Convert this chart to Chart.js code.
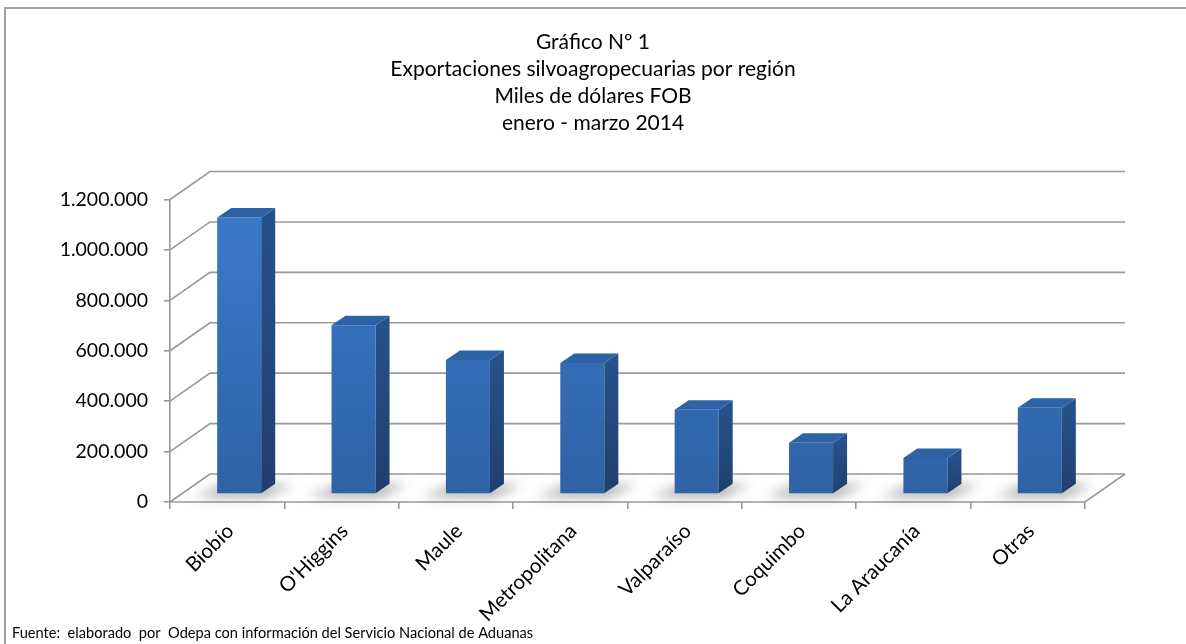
<!DOCTYPE html>
<html>
<head>
<meta charset="utf-8">
<script src="https://cdn.jsdelivr.net/npm/chart.js@4/dist/chart.umd.min.js"></script>
<style>
  html, body { margin: 0; padding: 0; background: #fff; }
  #wrap { width: 1186px; height: 644px; position: relative; }
</style>
</head>
<body>
<div id="wrap"><canvas id="c" width="1186" height="644"></canvas></div>
<script>
// data (miles de dólares FOB)
var regiones = ['Biobío', "O'Higgins", 'Maule', 'Metropolitana', 'Valparaíso', 'Coquimbo', 'La Araucanía', 'Otras'];
var exportaciones = [1097000, 669000, 532000, 520000, 334000, 203000, 143000, 342000];
var yTicks = [0, 200000, 400000, 600000, 800000, 1000000, 1200000];
var tituloLineas = ['Gráfico Nº 1', 'Exportaciones silvoagropecuarias por región', 'Miles de dólares FOB', 'enero - marzo 2014'];
var fuente = 'Fuente:  elaborado  por  Odepa con información del Servicio Nacional de Aduanas';

var FONT = "Lato, 'Open Sans', sans-serif";
var DEPTH_X = 40, DEPTH_Y = 28;      // depth of the walls
var BAR_OFF_X = 12, BAR_OFF_Y = 8;   // bar front face sits a bit behind the front plane
var BAR_DX = 14, BAR_DY = 9.5;       // bar depth
var GRID = '#999999';

function fmt(v) {
    return String(v).replace(/\B(?=(\d{3})+(?!\d))/g, '.');
}

var wallPlugin = {
    id: 'wall3d',
    beforeDraw: function(chart) {
        var ctx = chart.ctx;
        ctx.save();
        ctx.fillStyle = '#fff';
        ctx.fillRect(0, 0, chart.width, chart.height);
        // frame
        ctx.strokeStyle = '#a0a0a0';
        ctx.lineWidth = 2;
        ctx.beginPath();
        ctx.moveTo(5, chart.height);
        ctx.lineTo(5, 8);
        ctx.lineTo(chart.width, 8);
        ctx.stroke();
        // footer
        ctx.fillStyle = '#000';
        ctx.font = '14.6px ' + FONT;
        ctx.textBaseline = 'middle';
        ctx.fillText(fuente, 12, 633);
        ctx.restore();
    },
    beforeDatasetsDraw: function(chart) {
        var ctx = chart.ctx, a = chart.chartArea, y = chart.scales.y;
        ctx.save();
        ctx.strokeStyle = GRID;
        ctx.lineWidth = 1.6;
        // back wall gridlines + side wall diagonals
        yTicks.forEach(function(t) {
            var py = y.getPixelForValue(t);
            ctx.beginPath();
            ctx.moveTo(a.left, py);
            ctx.lineTo(a.left + DEPTH_X, py - DEPTH_Y);
            ctx.lineTo(a.right + DEPTH_X, py - DEPTH_Y);
            ctx.stroke();
        });
        // floor
        var p0 = y.getPixelForValue(0);
        ctx.beginPath();
        ctx.moveTo(a.left, p0);
        ctx.lineTo(a.right, p0);
        ctx.lineTo(a.right + DEPTH_X, p0 - DEPTH_Y);
        ctx.stroke();
        // bar shadows on the floor
        var meta = chart.getDatasetMeta(0);
        ctx.fillStyle = 'rgba(70,70,70,0.45)';
        ctx.filter = 'blur(6px)';
        meta.data.forEach(function(bar) {
            var l = bar.x - bar.width / 2 + BAR_OFF_X, r = bar.x + bar.width / 2 + BAR_OFF_X;
            var b = p0 - BAR_OFF_Y;
            ctx.beginPath();
            ctx.moveTo(l - 24, b + 3);
            ctx.lineTo(r + 4, b + 3);
            ctx.lineTo(r + BAR_DX + 18, b - BAR_DY);
            ctx.lineTo(l + BAR_DX - 6, b - BAR_DY);
            ctx.closePath();
            ctx.fill();
        });
        ctx.filter = 'none';
        ctx.restore();
        // draw the library's bars shifted to their depth
        ctx.save();
        ctx.translate(BAR_OFF_X, -BAR_OFF_Y);
    },
    afterDatasetsDraw: function(chart) {
        var ctx = chart.ctx;
        ctx.restore();
        var meta = chart.getDatasetMeta(0);
        ctx.save();
        meta.data.forEach(function(bar) {
            var l = bar.x - bar.width / 2 + BAR_OFF_X, r = bar.x + bar.width / 2 + BAR_OFF_X;
            var t = bar.y - BAR_OFF_Y, b = bar.base - BAR_OFF_Y;
            // side face
            var sg = ctx.createLinearGradient(0, t, 0, b);
            sg.addColorStop(0, '#26518a');
            sg.addColorStop(1, '#1f406d');
            ctx.fillStyle = sg;
            ctx.beginPath();
            ctx.moveTo(r, t);
            ctx.lineTo(r + BAR_DX, t - BAR_DY);
            ctx.lineTo(r + BAR_DX, b - BAR_DY);
            ctx.lineTo(r, b);
            ctx.closePath();
            ctx.fill();
            // top face
            ctx.fillStyle = '#2d62a6';
            ctx.beginPath();
            ctx.moveTo(l, t);
            ctx.lineTo(l + BAR_DX, t - BAR_DY);
            ctx.lineTo(r + BAR_DX, t - BAR_DY);
            ctx.lineTo(r, t);
            ctx.closePath();
            ctx.fill();
        });
        ctx.restore();
    }
};

var ctx = document.getElementById('c').getContext('2d');
new Chart(ctx, {
    type: 'bar',
    data: {
        labels: regiones,
        datasets: [{
            label: 'Exportaciones',
            data: exportaciones,
            borderWidth: 0,
            categoryPercentage: 1,
            barPercentage: 0.385,
            backgroundColor: function(c) {
                var a = c.chart.chartArea;
                if (!a) return '#3470bd';
                var g = c.chart.ctx.createLinearGradient(0, a.top, 0, a.bottom);
                g.addColorStop(0, '#3b7bcd');
                g.addColorStop(1, '#2f62a5');
                return g;
            }
        }]
    },
    options: {
        responsive: false,
        animation: false,
        layout: { padding: { left: 0, right: 0, top: 8, bottom: 0 } },
        plugins: {
            legend: { display: false },
            tooltip: { enabled: false },
            title: {
                display: true,
                text: tituloLineas,
                color: '#000',
                font: { family: FONT, size: 21, weight: 'normal', lineHeight: 1.286 },
                padding: { top: 20.5, bottom: 63 }
            }
        },
        scales: {
            x: {
                grid: { display: true, offset: true, drawOnChartArea: false, drawTicks: true, tickLength: 7, color: GRID, lineWidth: 1.6 },
                border: { display: false },
                ticks: {
                    color: '#000',
                    font: { family: FONT, size: 20.5 },
                    maxRotation: 45,
                    minRotation: 45,
                    padding: 10,
                    labelOffset: 3
                },
                afterFit: function(s) { s.height = 142; }
            },
            y: {
                min: 0,
                max: 1200000,
                afterBuildTicks: function(s) {
                    s.ticks = yTicks.map(function(v) { return { value: v }; });
                },
                grid: { display: true, drawOnChartArea: false, drawTicks: true, tickLength: 6, color: GRID, lineWidth: 1.6 },
                border: { display: true, color: GRID, width: 1.6 },
                ticks: {
                    color: '#000',
                    font: { family: FONT, size: 19.5 },
                    padding: 16,
                    callback: function(v) { return fmt(v); }
                },
                afterFit: function(s) { s.width = 170; }
            },
            yRight: {
                position: 'right',
                display: true,
                grid: { display: false },
                border: { display: false },
                ticks: { display: false },
                afterFit: function(s) { s.width = 101; }
            }
        }
    },
    plugins: [wallPlugin]
});
</script>
</body>
</html>
